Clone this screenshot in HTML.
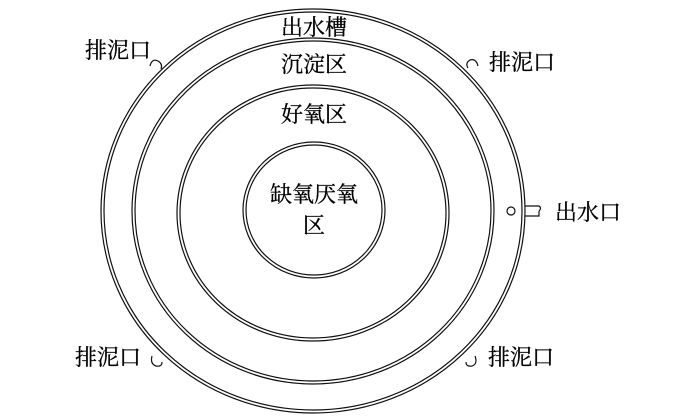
<!DOCTYPE html>
<html><head><meta charset="utf-8"><style>
html,body{margin:0;padding:0;background:#fff;}
svg{display:block}
text{font-family:"Liberation Serif","Noto Serif CJK SC",serif;font-size:22px;fill:#000;stroke:#000;stroke-width:0.3;}
</style></head><body>
<svg width="700" height="420" viewBox="0 0 700 420" xmlns="http://www.w3.org/2000/svg">
<g fill="none" stroke="#111" stroke-width="1.2">
<ellipse cx="313" cy="211" rx="212" ry="202"/>
<ellipse cx="313" cy="211" rx="209" ry="199"/>
<ellipse cx="313" cy="211" rx="181" ry="173"/>
<ellipse cx="313" cy="211" rx="178" ry="170"/>
<ellipse cx="313" cy="213" rx="136" ry="128"/>
<ellipse cx="313" cy="213" rx="133" ry="125"/>
<ellipse cx="314" cy="210" rx="71" ry="68"/>
<ellipse cx="314" cy="210" rx="68" ry="65"/>
<circle cx="511" cy="211" r="4"/>
<path d="M525 206 H539 Q542 208 539 211 M525 216 H539 V211"/>
<path d="M150 66 Q152 58 158 61 Q163 64 161 69"/>
<path d="M478 66 Q476 58 470 60 Q465 63 468 68"/>
<path d="M152 356 Q150 364 156 366 Q162 367 162 362"/>
<path d="M475 356 Q478 364 472 366 Q466 367 466 362"/>
</g>
<g text-anchor="middle">
<text x="314" y="35">出水槽</text>
<text x="314" y="72">沉淀区</text>
<text x="314" y="122">好氧区</text>
<text x="314" y="202">缺氧厌氧</text>
<text x="314" y="233">区</text>
</g>
<text x="85" y="58">排泥口</text>
<text x="489" y="70">排泥口</text>
<text x="555" y="220">出水口</text>
<text x="75" y="365">排泥口</text>
<text x="488" y="365">排泥口</text>
</svg>
</body></html>
